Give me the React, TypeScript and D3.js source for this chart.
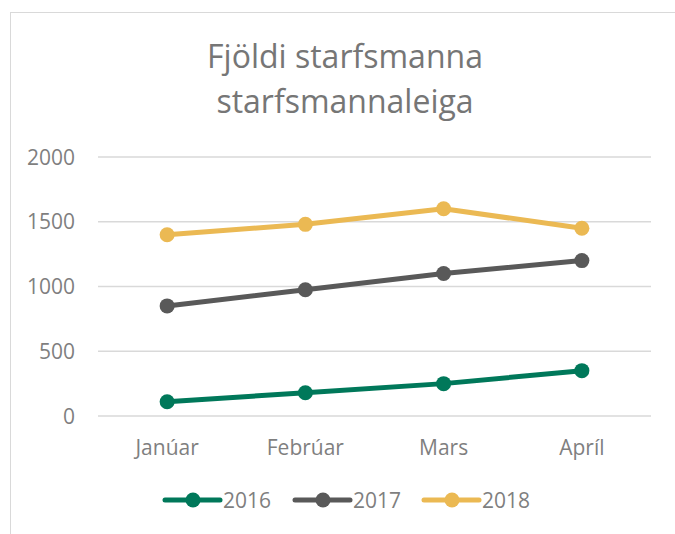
import React from "react";
import * as d3 from "d3";

const categories = ["Janúar", "Febrúar", "Mars", "Apríl"];
const seriesNames = ["2016", "2017", "2018"];
const values2016 = [110, 180, 250, 350];
const values2017 = [850, 975, 1100, 1200];
const values2018 = [1400, 1480, 1600, 1450];
const yTicks = [0, 500, 1000, 1500, 2000];
const colors = ["#00785a", "#595959", "#ebb953"];
const titleLines = ["Fjöldi starfsmanna", "starfsmannaleiga"];

const W = 675;
const H = 534;
const FONT = "'Open Sans', Lato, sans-serif";

export default function App() {
  const series = [values2016, values2017, values2018];
  const x = d3.scaleBand<string>().domain(categories).range([98, 651]);
  const y = d3.scaleLinear().domain([0, 2000]).range([416, 157]);
  const cx = (i: number) => (x(categories[i]) as number) + x.bandwidth() / 2;
  const line = d3
    .line<number>()
    .x((_, i) => cx(i))
    .y((d) => y(d));

  const legendX = [165, 295, 424];

  return (
    <svg
      width={W}
      height={H}
      style={{ position: "absolute", left: 0, top: 0 }}
      fontFamily={FONT}
    >
      <rect x={0} y={0} width={W} height={H} fill="#fff" />
      <rect x={10.5} y={12.5} width={W} height={H} fill="#fff" stroke="#d9d9d9" strokeWidth={1} />
      {titleLines.map((t, i) => (
        <text key={t} x={345} y={67.5 + i * 45} textAnchor="middle" fontSize={32} fill="#767676">
          {t}
        </text>
      ))}
      {yTicks.map((t) => (
        <g key={t}>
          <line x1={98} x2={651} y1={y(t)} y2={y(t)} stroke="#d9d9d9" strokeWidth={1.5} />
          <text x={75} y={y(t) + 7.5} textAnchor="end" fontSize={21} fill="#7f7f7f">
            {t}
          </text>
        </g>
      ))}
      {categories.map((c, i) => (
        <text key={c} x={cx(i)} y={455} textAnchor="middle" fontSize={21} fill="#7f7f7f">
          {c}
        </text>
      ))}
      {series.map((s, si) => (
        <g key={si}>
          <path d={line(s) || ""} fill="none" stroke={colors[si]} strokeWidth={5} strokeLinecap="round" strokeLinejoin="round" />
          {s.map((v, i) => (
            <circle key={i} cx={cx(i)} cy={y(v)} r={7.5} fill={colors[si]} />
          ))}
        </g>
      ))}
      {seriesNames.map((n, i) => (
        <g key={n}>
          <line x1={legendX[i]} x2={legendX[i] + 55} y1={500} y2={500} stroke={colors[i]} strokeWidth={5} strokeLinecap="round" />
          <circle cx={legendX[i] + 28} cy={500} r={7.5} fill={colors[i]} />
          <text x={legendX[i] + 58} y={507.5} fontSize={21} fill="#7f7f7f">
            {n}
          </text>
        </g>
      ))}
    </svg>
  );
}
